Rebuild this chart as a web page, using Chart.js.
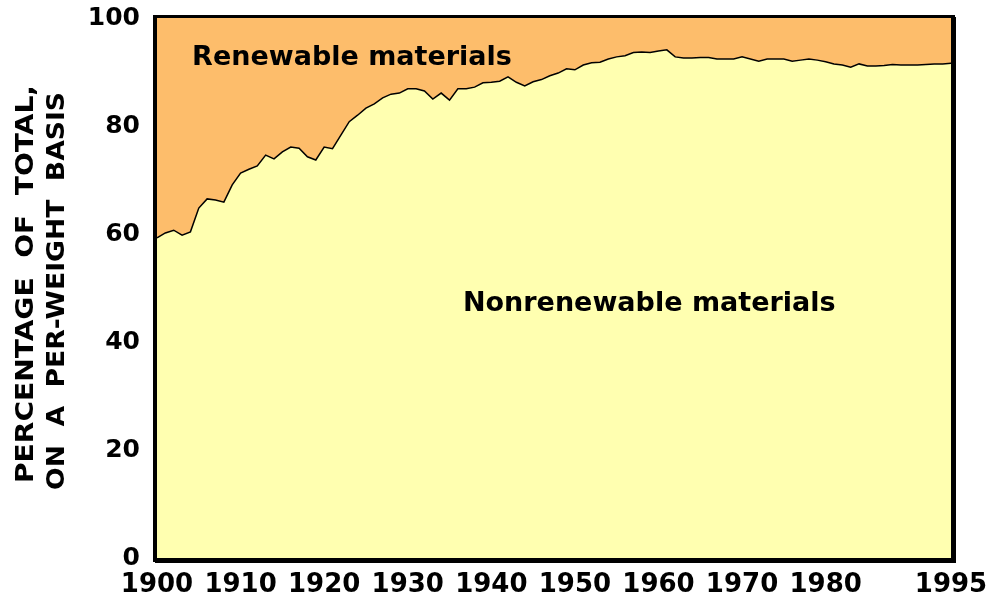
<!DOCTYPE html>
<html>
<head>
<meta charset="utf-8">
<script src="https://cdn.jsdelivr.net/npm/chart.js@4.4.1/dist/chart.umd.min.js"></script>
<style>
    html, body { margin: 0; padding: 0; background: #ffffff; }
    #wrap { width: 986px; height: 605px; }
</style>
</head>
<body>
<div id="wrap"><canvas id="materialsChart"></canvas></div>
<script>
const years = [
    1900, 1901, 1902, 1903, 1904, 1905, 1906, 1907, 1908, 1909,
    1910, 1911, 1912, 1913, 1914, 1915, 1916, 1917, 1918, 1919,
    1920, 1921, 1922, 1923, 1924, 1925, 1926, 1927, 1928, 1929,
    1930, 1931, 1932, 1933, 1934, 1935, 1936, 1937, 1938, 1939,
    1940, 1941, 1942, 1943, 1944, 1945, 1946, 1947, 1948, 1949,
    1950, 1951, 1952, 1953, 1954, 1955, 1956, 1957, 1958, 1959,
    1960, 1961, 1962, 1963, 1964, 1965, 1966, 1967, 1968, 1969,
    1970, 1971, 1972, 1973, 1974, 1975, 1976, 1977, 1978, 1979,
    1980, 1981, 1982, 1983, 1984, 1985, 1986, 1987, 1988, 1989,
    1990, 1991, 1992, 1993, 1994, 1995
];

// percentage nonrenewable (the rest up to 100 is renewable)
const nonrenewable = [
    59.3, 60.2, 60.7, 59.8, 60.4, 64.8, 66.5, 66.3, 65.9, 69.1,
    71.3, 72.0, 72.6, 74.6, 73.9, 75.2, 76.1, 75.9, 74.3, 73.7,
    76.1, 75.8, 78.3, 80.8, 82.0, 83.3, 84.1, 85.2, 85.9, 86.1,
    86.9, 86.9, 86.5, 85.0, 86.1, 84.8, 86.9, 86.9, 87.2, 88.0,
    88.1, 88.3, 89.1, 88.1, 87.4, 88.2, 88.6, 89.3, 89.8, 90.6,
    90.4, 91.3, 91.7, 91.8, 92.4, 92.8, 93.0, 93.6, 93.7, 93.6,
    93.9, 94.1, 92.8, 92.6, 92.6, 92.7, 92.7, 92.4, 92.4, 92.4,
    92.8, 92.4, 92.0, 92.4, 92.4, 92.4, 92.0, 92.2, 92.4, 92.2,
    91.9, 91.5, 91.3, 90.9, 91.5, 91.1, 91.1, 91.2, 91.4, 91.3,
    91.3, 91.3, 91.4, 91.5, 91.5, 91.6
];

const xTicks = [1900, 1910, 1920, 1930, 1940, 1950, 1960, 1970, 1980, 1995];
const yTitle = ["PERCENTAGE  OF  TOTAL,", "ON  A  PER-WEIGHT  BASIS"];

const ORANGE = "#fdbd6b";
const YELLOW = "#ffffb0";
const FONT = "'DejaVu Sans', Verdana, sans-serif";

const points = years.map((y, i) => ({ x: y, y: nonrenewable[i] }));

// area labels, placed in data units
const areaLabels = [
    { text: "Renewable materials", x: 1904.2, y: 92.6 },
    { text: "Nonrenewable materials", x: 1936.6, y: 47.0 }
];

const framePlugin = {
    id: "frame",
    afterDraw(chart) {
        const ctx = chart.ctx;
        const a = chart.chartArea;
        const xs = chart.scales.x;
        const ys = chart.scales.y;

        ctx.save();
        ctx.fillStyle = "#000";
        ctx.font = "bold 27px " + FONT;
        ctx.textBaseline = "middle";
        ctx.textAlign = "left";
        areaLabels.forEach(l => {
            ctx.fillText(l.text, xs.getPixelForValue(l.x), ys.getPixelForValue(l.y));
        });

        // frame with a small shadow on the right and bottom
        ctx.fillRect(a.left - 4, a.top - 3, a.right - a.left + 8, 3);
        ctx.fillRect(a.left - 4, a.top - 3, 4, a.bottom - a.top + 7);
        ctx.fillRect(a.right, a.top - 1, 5, a.bottom - a.top + 5);
        ctx.fillRect(a.left - 2, a.bottom, a.right - a.left + 7, 5);

        // y axis title, two rotated lines stretched to the same length
        ctx.font = "bold 24px " + FONT;
        ctx.textAlign = "center";
        const titleLen = 398;
        [[27, 284], [58, 291]].forEach((pos, i) => {
            const w = ctx.measureText(yTitle[i]).width;
            ctx.save();
            ctx.translate(pos[0], pos[1]);
            ctx.rotate(-Math.PI / 2);
            ctx.scale(titleLen / w, 1);
            ctx.fillText(yTitle[i], 0, 0);
            ctx.restore();
        });
        ctx.restore();
    }
};

new Chart(document.getElementById("materialsChart"), {
    type: "line",
    data: {
        datasets: [
            {
                label: "Nonrenewable materials",
                data: points,
                borderColor: "#000",
                borderWidth: 1.5,
                backgroundColor: YELLOW,
                fill: "origin",
                pointRadius: 0,
                tension: 0
            },
            {
                label: "Renewable materials",
                data: points,
                borderColor: "rgba(0,0,0,0)",
                borderWidth: 0,
                backgroundColor: ORANGE,
                fill: "end",
                pointRadius: 0,
                tension: 0
            }
        ]
    },
    options: {
        responsive: true,
        maintainAspectRatio: false,
        animation: false,
        layout: { padding: { top: 18, right: 35, left: 0, bottom: 0 } },
        plugins: {
            legend: { display: false },
            tooltip: { enabled: false }
        },
        scales: {
            x: {
                type: "linear",
                min: 1900,
                max: 1995,
                grid: { display: false, drawTicks: false },
                border: { display: false },
                afterBuildTicks(scale) {
                    scale.ticks = xTicks.map(v => ({ value: v }));
                },
                afterFit(scale) {
                    scale.height = 47;
                    scale.paddingLeft = 0;
                    scale.paddingRight = 0;
                },
                ticks: {
                    color: "#000",
                    font: { family: FONT, size: 26, weight: "bold" },
                    padding: 12,
                    maxRotation: 0,
                    autoSkip: false,
                    callback: v => String(v)
                }
            },
            y: {
                min: 0,
                max: 100,
                grid: { display: false, drawTicks: false },
                border: { display: false },
                afterFit(scale) {
                    scale.width = 157;
                    scale.paddingTop = 0;
                    scale.paddingBottom = 0;
                },
                ticks: {
                    stepSize: 20,
                    color: "#000",
                    font: { family: FONT, size: 25, weight: "bold" },
                    padding: 17
                }
            }
        }
    },
    plugins: [framePlugin]
});
</script>
</body>
</html>
